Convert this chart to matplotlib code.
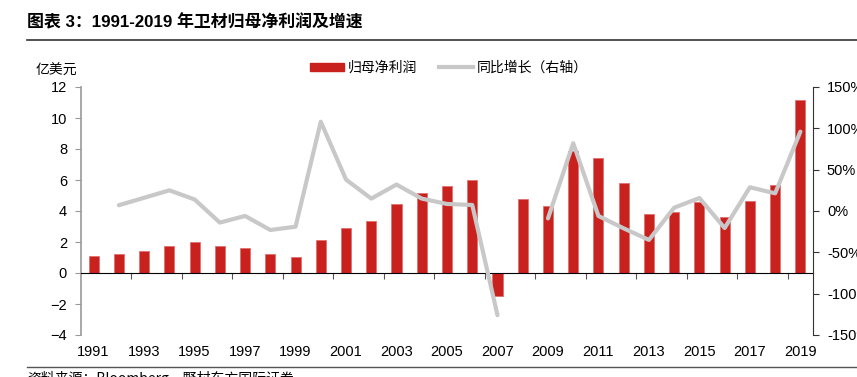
import numpy as np
import matplotlib
matplotlib.use("Agg")
import matplotlib.pyplot as plt
from matplotlib.ticker import FuncFormatter, FixedLocator
from matplotlib.transforms import blended_transform_factory
from matplotlib.patches import Patch
from matplotlib.lines import Line2D

plt.rcParams['font.family'] = ['Liberation Sans', 'Noto Sans CJK SC', 'DejaVu Sans']

years = list(range(1991, 2020))
profit = [1.12, 1.20, 1.40, 1.74, 1.98, 1.72, 1.59, 1.25, 1.01, 2.11,
          2.92, 3.35, 4.45, 5.14, 5.61, 6.02, -1.48, 4.75, 4.34, 7.89,
          7.40, 5.80, 3.80, 3.94, 4.58, 3.61, 4.67, 5.70, 11.18]
growth = [np.nan, 0.07, 0.16, 0.25, 0.14, -0.14, -0.06, -0.23, -0.19, 1.08,
          0.38, 0.15, 0.32, 0.15, 0.085, 0.073, -1.26, np.nan, -0.09, 0.82,
          -0.06, -0.21, -0.35, 0.04, 0.157, -0.206, 0.287, 0.214, 0.96]
year_labels = [str(y) if y % 2 == 1 else '' for y in years]

red = '#C9211E'
grey = '#C8C8C8'

fig = plt.figure(figsize=(8.57, 3.77), dpi=100)
W, H = 857, 377
ax = fig.add_axes([81 / W, (H - 335) / H, (813 - 81) / W, (335 - 87) / H])
x = np.arange(len(years))

ax.bar(x, profit, width=0.4, color=red, edgecolor='#E07070', linewidth=0.6, zorder=2)
ax.set_xlim(-0.5, len(years) - 0.5)
ax.set_ylim(-4, 12)
ax.set_yticks(range(-4, 13, 2))

ax2 = ax.twinx()
ax2.plot(x, growth, color=grey, lw=3, solid_capstyle='round', zorder=3)
ax2.set_ylim(-1.5, 1.5)
ax2.set_yticks(np.arange(-1.5, 1.51, 0.5))
ax2.yaxis.set_major_formatter(FuncFormatter(lambda v, p: f'{v * 100:.0f}%'))
ax.set_zorder(ax2.get_zorder() - 1)
ax.patch.set_visible(False)

# x axis at zero, ticks on category boundaries every two years
ax.spines['bottom'].set_position(('data', 0))
ax.spines['bottom'].set_color('black')
ax.xaxis.set_major_locator(FixedLocator([i - 0.5 for i in x if i % 2 == 0][1:]))
ax.set_xticklabels([])
ax.tick_params(axis='x', direction='out', length=4, color='#555555')
tr = blended_transform_factory(ax.transData, ax.transAxes)
for i, lab in zip(x, year_labels):
    if lab:
        ax.text(i, -0.068, lab, transform=tr, ha='center', va='center', fontsize=10.5)

for a in (ax, ax2):
    a.spines['top'].set_visible(False)
ax.spines['right'].set_visible(False)
ax2.spines['bottom'].set_visible(False)
ax2.spines['left'].set_visible(False)
ax.spines['left'].set_color('#999999')
ax.spines['left'].set_linewidth(1.2)
ax2.spines['right'].set_color('#333333')
ax.tick_params(axis='y', length=4, color='#999999', labelsize=10.5, pad=6)
ax2.tick_params(axis='y', length=4, color='#333333', labelsize=10.5, pad=6)

fig.text(56 / W, (H - 71) / H, '亿美元', ha='center', va='center', fontsize=10,
         family=['Noto Sans CJK SC'])

handles = [Patch(facecolor=red, edgecolor=red),
           Line2D([0], [0], color=grey, lw=3)]
leg = fig.legend(handles, ['归母净利润', '同比增长（右轴）'], loc='center',
                 bbox_to_anchor=(449 / W, (H - 68) / H), ncol=2, frameon=False,
                 handlelength=2.4, handleheight=0.55, columnspacing=1.6,
                 handletextpad=0.3, prop={'family': 'Noto Sans CJK SC', 'size': 10})

fig.text(27 / W, (H - 22) / H, '图表 3：1991-2019 年卫材归母净利润及增速', ha='left', va='center',
         fontsize=12.2, fontweight='bold', family=['Liberation Sans', 'Noto Sans CJK SC'])
fig.add_artist(Line2D([27 / W, 1], [(H - 40) / H] * 2, color='#333333', lw=1.2))
fig.add_artist(Line2D([27 / W, 1], [(H - 367) / H] * 2, color='#555555', lw=1.0))
fig.text(27 / W, (H - 378) / H, '资料来源：Bloomberg，野村东方国际证券', ha='left', va='center',
         fontsize=10, family=['Noto Sans CJK SC', 'Liberation Sans'])

fig.savefig('out.png', dpi=100)
